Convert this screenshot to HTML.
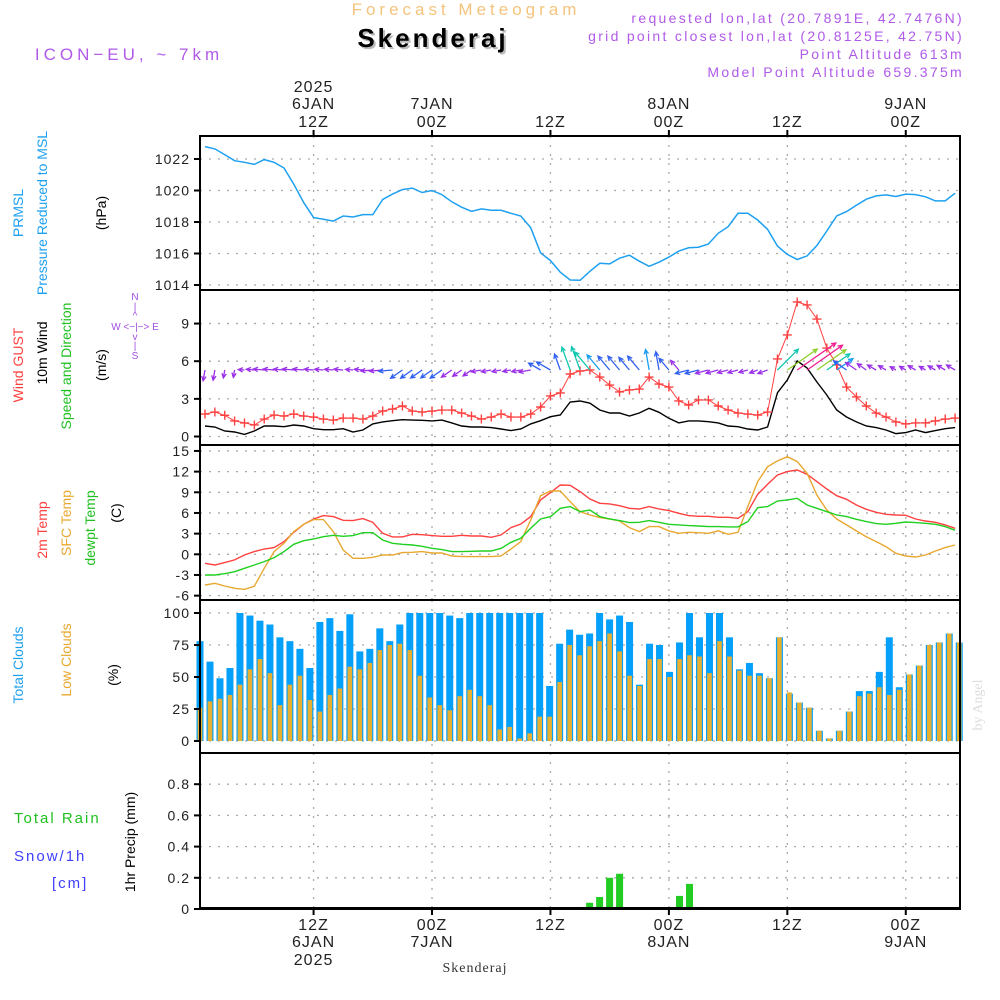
<!DOCTYPE html>
<html><head><meta charset="utf-8"><style>
body{margin:0;background:#fff;}
svg{display:block;font-family:"Liberation Sans",sans-serif;}
</style></head><body>
<svg id="c" width="1000" height="1000" viewBox="0 0 1000 1000">
<text x="466" y="15" text-anchor="middle" font-size="17" fill="#f4c47c" letter-spacing="4">Forecast Meteogram</text>
<text x="435" y="49" text-anchor="middle" font-size="26" font-weight="bold" fill="#bbb" letter-spacing="3">Skenderaj</text>
<text x="433" y="47" text-anchor="middle" font-size="26" font-weight="bold" fill="#000" letter-spacing="3">Skenderaj</text>
<text x="129" y="60" text-anchor="middle" font-size="17" fill="#b05ae8" letter-spacing="4">ICON−EU, ~ 7km</text>
<g font-size="14" fill="#b05ae8" text-anchor="end" letter-spacing="2.3">
<text x="964" y="23">requested lon,lat (20.7891E, 42.7476N)</text>
<text x="964" y="41">grid point closest lon,lat (20.8125E, 42.75N)</text>
<text x="964" y="59">Point Altitude 613m</text>
<text x="964" y="77">Model Point Altitude 659.375m</text>
</g>
<g id="grid"></g><g id="marks"></g><g id="frame"></g>
<g font-size="14" text-anchor="middle">
<text transform="translate(23,213) rotate(-90)" fill="#1ea0f0">PRMSL</text>
<text transform="translate(47,213) rotate(-90)" fill="#1ea0f0">Pressure Reduced to MSL</text>
<text transform="translate(106,213) rotate(-90)" fill="#000">(hPa)</text>
<text transform="translate(23,365) rotate(-90)" fill="#ff4040">Wind GUST</text>
<text transform="translate(47,353) rotate(-90)" fill="#000">10m Wind</text>
<text transform="translate(71,366) rotate(-90)" fill="#20c020">Speed and Direction</text>
<text transform="translate(106,365) rotate(-90)" fill="#000">(m/s)</text>
<text transform="translate(47,530) rotate(-90)" fill="#ff4040">2m Temp</text>
<text transform="translate(71,523) rotate(-90)" fill="#e8a830">SFC Temp</text>
<text transform="translate(95,528) rotate(-90)" fill="#20c020">dewpt Temp</text>
<text transform="translate(121,513) rotate(-90)" fill="#000">(C)</text>
<text transform="translate(23,665) rotate(-90)" fill="#1ea0f0">Total Clouds</text>
<text transform="translate(71,660) rotate(-90)" fill="#e8a830">Low Clouds</text>
<text transform="translate(118,675) rotate(-90)" fill="#000">(%)</text>
<text transform="translate(135,842) rotate(-90)" fill="#000">1hr Precip (mm)</text>
</g>
<g font-size="15" letter-spacing="2">
<text x="14" y="823" fill="#20c020">Total  Rain</text>
<text x="14" y="861" fill="#4040ff">Snow/1h</text>
<text x="52" y="888" fill="#4040ff">[cm]</text>
</g>
<g font-size="10" fill="#a050e0" text-anchor="middle">
<text x="135" y="300">N</text><text x="135" y="310">|</text><text x="135" y="319">^</text>
<text x="135" y="330">W &lt;−|−&gt; E</text>
<text x="135" y="340">v</text><text x="135" y="349">|</text><text x="135" y="359">S</text>
</g>
<text transform="translate(982,705) rotate(-90)" font-size="14" fill="#ddd" text-anchor="middle" font-family="Liberation Serif, serif">by Angel</text>
<text x="475" y="972" font-size="14" fill="#333" text-anchor="middle" font-family="Liberation Serif, serif" letter-spacing="1">Skenderaj</text>
<g id="timelabels" font-size="16" fill="#222" text-anchor="middle" letter-spacing="1"></g>
</svg>
<script>
const pres=[1022.79,1022.64,1022.28,1021.89,1021.79,1021.66,1021.96,1021.79,1021.43,1020.40,1019.23,1018.28,1018.17,1018.06,1018.38,1018.32,1018.47,1018.47,1019.43,1019.77,1020.06,1020.15,1019.87,1020.00,1019.74,1019.28,1018.94,1018.68,1018.83,1018.74,1018.74,1018.55,1018.38,1017.64,1016.04,1015.55,1014.81,1014.32,1014.30,
1014.87,1015.38,1015.34,1015.70,1015.89,1015.51,1015.19,1015.45,1015.77,1016.15,1016.36,1016.40,1016.60,1017.28,1017.70,1018.55,1018.55,1018.13,1017.53,1016.47,1015.94,1015.62,1015.85,1016.51,1017.43,1018.38,1018.66,1019.06,1019.45,1019.66,1019.72,1019.62,1019.77,1019.74,1019.60,1019.34,1019.34,1019.83];
const gust=[1.79,1.95,1.69,1.24,1.08,0.92,1.39,1.71,1.63,1.79,1.63,1.55,1.39,1.31,1.47,1.47,1.39,1.63,2.03,2.19,2.43,2.03,1.95,2.03,2.11,2.11,1.87,1.63,1.39,1.55,1.79,1.55,1.55,1.79,2.35,3.23,3.47,4.98,5.22,
5.30,4.74,4.10,3.55,3.71,3.78,4.74,4.18,3.94,2.83,2.51,2.91,2.91,2.43,2.11,1.87,1.79,1.71,1.95,6.18,8.09,10.72,10.48,9.36,7.05,5.70,3.94,3.15,2.43,1.87,1.55,1.16,1.00,1.08,1.08,1.24,1.39,1.47];
const wind=[0.84,0.76,0.44,0.36,0.17,0.44,0.84,0.84,0.78,0.92,0.84,0.62,0.54,0.54,0.62,0.36,0.52,1.00,1.16,1.26,1.34,1.31,1.29,1.24,1.31,1.08,0.84,0.76,0.76,0.71,0.60,0.47,0.60,1.00,1.26,1.58,1.71,2.75,2.83,
2.65,2.11,1.87,1.87,1.63,1.87,2.25,1.93,1.45,1.08,1.24,1.24,1.18,1.08,0.84,0.78,0.60,0.52,0.76,3.49,4.50,6.02,5.46,4.34,3.31,2.11,1.55,1.16,0.84,0.71,0.52,0.23,0.31,0.52,0.31,0.47,0.62,0.71];
const windDir=[260,260,260,260,175,175,175,175,175,175,175,175,175,175,175,175,175,185,185,185,215,215,215,215,215,215,215,215,190,190,190,190,190,190,150,150,110,110,110,130,130,130,130,130,130,100,100,130,130,195,195,195,195,195,195,195,200,200,45,35,35,35,35,35,35,145,145,145,150,150,150,150,150,150,150,150,150];
const t2m=[-1.31,-1.55,-1.21,-0.82,-0.10,0.39,0.77,0.97,1.84,3.19,4.35,5.13,5.61,5.47,4.93,4.89,5.18,4.64,3.05,2.52,2.52,2.90,2.85,2.71,2.61,2.61,2.76,2.66,2.66,2.47,2.81,3.87,4.40,5.47,7.89,8.95,10.06,10.01,9.10,
8.03,7.40,7.31,7.06,6.68,6.58,6.92,6.58,6.34,5.95,5.61,5.52,5.52,5.37,5.37,5.22,6.19,8.71,10.16,11.51,12.00,12.24,11.61,10.55,9.48,8.51,7.98,7.16,6.53,6.10,5.81,5.71,5.66,5.13,4.84,4.64,4.26,3.77];
const tsfc=[-4.45,-4.21,-4.60,-4.93,-5.08,-4.64,-2.03,0.39,1.60,3.29,4.35,5.03,5.03,3.29,0.63,-0.58,-0.58,-0.44,-0.10,-0.10,0.24,0.29,0.39,0.19,0.19,-0.24,-0.34,-0.34,-0.34,-0.34,-0.24,0.77,1.84,4.98,8.51,9.19,9.19,7.64,6.19,
5.71,5.32,5.13,4.84,3.87,3.29,4.02,4.02,3.39,3.05,3.19,3.14,3.05,3.39,2.90,3.19,6.92,10.55,12.72,13.55,14.17,13.45,11.76,8.61,6.43,5.13,4.26,3.39,2.56,1.84,1.11,0.15,-0.24,-0.39,-0.10,0.48,0.97,1.35];
const tdew=[-3.0,-3.0,-2.81,-2.52,-2.03,-1.55,-1.06,-0.48,0.39,1.45,1.98,2.23,2.56,2.76,2.61,2.71,3.14,3.14,2.08,1.60,1.45,1.35,1.16,0.87,0.68,0.39,0.39,0.44,0.48,0.48,0.87,1.74,2.32,3.77,5.13,5.47,6.68,6.92,6.19,
6.43,5.47,5.13,4.89,4.60,4.64,4.89,4.64,4.35,4.26,4.16,4.11,4.02,4.02,3.97,3.97,4.74,6.77,6.92,7.74,7.89,8.13,7.16,6.68,6.19,5.71,5.47,5.08,4.74,4.45,4.35,4.50,4.69,4.60,4.50,4.35,4.02,3.48];
const totCloud=[78,62,49,57,100,98,94,91,81,78,72,57,93,96,86,99,70,72,88,78,91,100,100,100,100,98,96,100,100,100,100,100,100,100,100,43,76,87,83,
84,100,95,98,93,44,76,75,54,77,100,81,100,100,81,56,61,53,49,81,37,30,26,8,2,8,23,39,39,54,81,42,52,59,75,77,84,77];
const lowCloud=[26,31,33,36,44,56,64,53,28,44,51,32,23,36,41,58,56,61,71,75,76,71,51,34,28,24,35,40,35,28,9,11,2,6,19,19,46,75,67,
74,78,84,70,51,43,64,64,50,64,67,66,53,78,66,55,51,51,49,81,38,30,26,8,2,8,23,35,37,42,36,40,52,59,75,77,84,77];
const precip=[0,0,0,0,0,0,0,0,0,0,0,0,0,0,0,0,0,0,0,0,0,0,0,0,0,0,0,0,0,0,0,0,0,0,0,0,0,0.004,0.013,0.04,0.077,0.2,0.226,0,0,0,0,0,0.084,0.161,0.013,0,0,0,0.004,0,0,0,0,0,0,0,0,0,0,0,0,0,0,0,0,0,0,0,0,0,0];
const presTicks=[1014,1016,1018,1020,1022];
const windTicks=[0,3,6,9];
const tempTicks=[-6,-3,0,3,6,9,12,15];
const cloudTicks=[0,25,50,75,100];
const precipTicks=[0,0.2,0.4,0.6,0.8];
const timeIdx=[11,23,35,47,59,71];
const topLabels=[["2025","6JAN","12Z"],["","7JAN","00Z"],["","","12Z"],["","8JAN","00Z"],["","","12Z"],["","9JAN","00Z"]];
const botLabels=[["12Z","6JAN","2025"],["00Z","7JAN",""],["12Z","",""],["00Z","8JAN",""],["12Z","",""],["00Z","9JAN",""]];

const NS="http://www.w3.org/2000/svg";
const xL=i=>205+i*9.87;
const xB=i=>200+i*9.99;
const yP=v=>285-(v-1014)*15.75;
const yW=v=>436.5-v*12.55;
const yT=v=>554.3-v*6.89;
const yC=v=>741-v*1.28;
const yR=v=>909-v*156;
const X0=200,X1=960;
const panels=[[136,290],[290,445],[445,600],[600,753],[753,909]];
function mk(tag,attrs,parent){const e=document.createElementNS(NS,tag);for(const k in attrs)e.setAttribute(k,attrs[k]);parent.appendChild(e);return e;}
const grid=document.getElementById('grid'),marks=document.getElementById('marks'),frame=document.getElementById('frame'),tl=document.getElementById('timelabels');

function axis(ticks,yf,name,fmt){
  ticks.forEach(t=>{
    const y=yf(t);
    const g=mk('line',{x1:X0,x2:X1,y1:y,y2:y,stroke:'#aaa','stroke-width':1.3,'stroke-dasharray':'2,7'},grid);
    
    
    const tk=mk('line',{x1:X0-6,x2:X0,y1:y,y2:y,stroke:'#000','stroke-width':2},frame);
    
    
    const tx=mk('text',{x:190,y:y+5,'text-anchor':'end','font-size':14,fill:'#222','letter-spacing':1},frame);
    tx.textContent=fmt?fmt(t):String(t);
    
    
  });
}
axis(presTicks,yP,'pressure');
axis(windTicks,yW,'wind');
axis(tempTicks,yT,'temp');
axis(cloudTicks,yC,'cloud');
axis(precipTicks,yR,'precip',t=>t===0?'0':t.toFixed(1));
panels.forEach(p=>{timeIdx.forEach(i=>{
  const v=mk('line',{x1:xL(i),x2:xL(i),y1:p[0],y2:p[1],stroke:'#aaa','stroke-width':1.3,'stroke-dasharray':'2,7'},grid);
  
  
});});
panels.forEach((p,k)=>{
  const r=mk('rect',{x:X0,y:p[0],width:X1-X0,height:p[1]-p[0],fill:'none',stroke:'#000','stroke-width':2},frame);
  
  
});
timeIdx.forEach((i,k)=>{
  const t=mk('line',{x1:xL(i),x2:xL(i),y1:130,y2:136,stroke:'#000','stroke-width':2},frame);
  
  
  const b=mk('line',{x1:xL(i),x2:xL(i),y1:909,y2:915,stroke:'#000','stroke-width':2},frame);
  
  
  [92,109,127].forEach((y,j)=>{if(topLabels[k][j]){const e=mk('text',{x:xL(i),y:y},tl);e.textContent=topLabels[k][j];
    
    }});
  [930,947,965].forEach((y,j)=>{if(botLabels[k][j]){const e=mk('text',{x:xL(i),y:y},tl);e.textContent=botLabels[k][j];
    
    }});
});
function line(arr,yf,color,name,w){
  const pts=arr.map((v,i)=>xL(i).toFixed(1)+','+yf(v).toFixed(1)).join(' ');
  const p=mk('polyline',{points:pts,fill:'none',stroke:color,'stroke-width':w||1.4},marks);
  
  
}
totCloud.forEach((v,i)=>{
  const r=mk('rect',{x:xB(i)-3.5,y:yC(v),width:7,height:yC(0)-yC(v),fill:'#05a0fa'},marks);
  
  
});
lowCloud.forEach((v,i)=>{
  const r=mk('rect',{x:xB(i)-2.3,y:yC(v),width:4.6,height:yC(0)-yC(v),fill:'#e8b030'},marks);
  
  
});
precip.forEach((v,i)=>{
  if(v<=0)return;
  const r=mk('rect',{x:xB(i)-3.5,y:yR(v),width:7,height:yR(0)-yR(v),fill:'#22cc22'},marks);
  
  
});
const zl=mk('line',{x1:X0,x2:X1,y1:908,y2:908,stroke:'#000','stroke-width':2},marks);


line(pres,yP,'#1ea0f0','pressure-line',1.5);
line(t2m,yT,'#ff4040','temp-2m-line');
line(tsfc,yT,'#e8a830','temp-sfc-line');
line(tdew,yT,'#20d020','dewpoint-line');
line(wind,yW,'#000','wind-speed-line');
line(gust,yW,'#ff4040','wind-gust-line',1);
gust.forEach((v,i)=>{
  const x=xL(i),y=yW(v);
  const g=mk('path',{d:`M${x-4.5},${y}H${x+4.5}M${x},${y-4.5}V${y+4.5}`,stroke:'#ff4040','stroke-width':1.4},marks);
  
  
});
function acol(s){return s<1.2?'#9a30e8':s<2?'#3060f0':s<2.6?'#1a9cf0':s<3.6?'#10c8b0':s<4.6?'#90d030':s<5.3?'#e8a030':'#f02090';}
windDir.forEach((d,i)=>{
  const s=wind[i],len=5+s*7,a=d*Math.PI/180;
  const x0=xL(i),y0=370,x1=x0+len*Math.cos(a),y1=y0-len*Math.sin(a);
  const h=5,b1=a+Math.PI-0.45,b2=a+Math.PI+0.45;
  const p=`M${x0},${y0}L${x1},${y1}M${x1+h*Math.cos(b1)},${y1-h*Math.sin(b1)}L${x1},${y1}L${x1+h*Math.cos(b2)},${y1-h*Math.sin(b2)}`;
  const e=mk('path',{d:p,stroke:acol(s),'stroke-width':1.3,fill:'none'},marks);
  
  
});
</script>
</body></html>
